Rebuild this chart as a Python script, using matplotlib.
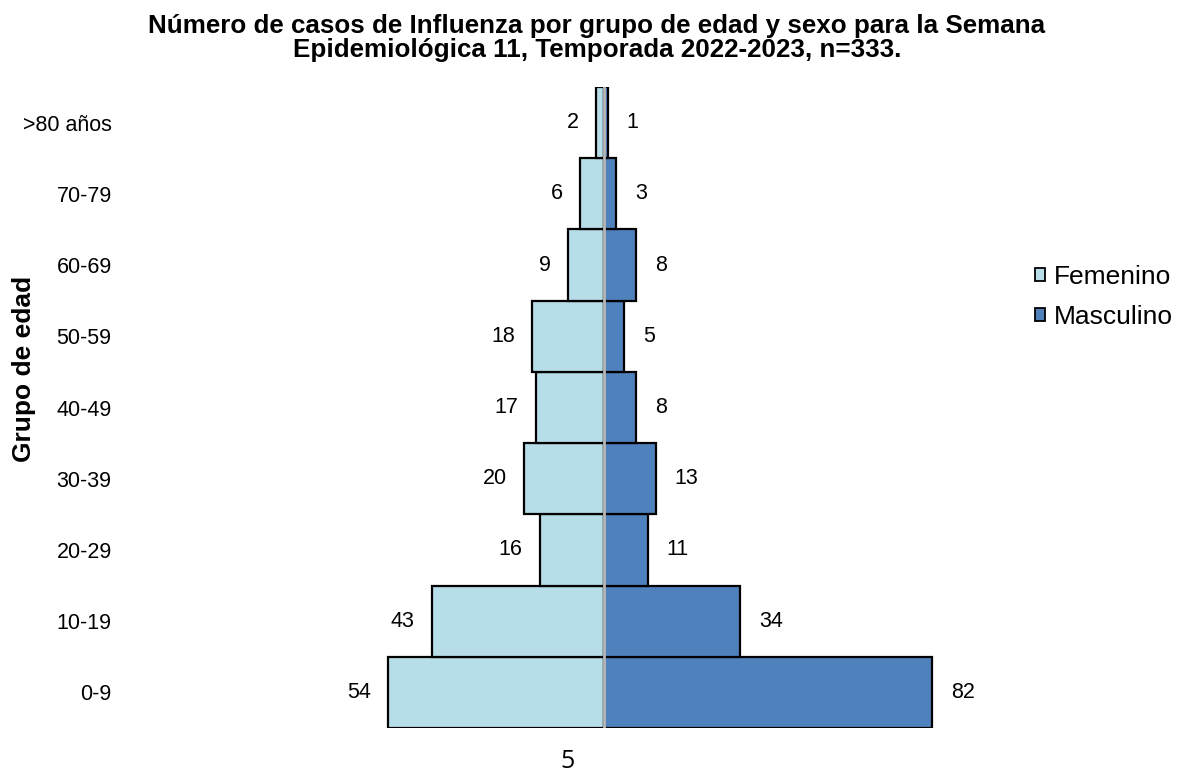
"""Piramide de casos de influenza por grupo de edad y sexo, SE 11."""
import matplotlib

matplotlib.use("Agg")
import matplotlib.pyplot as plt  # noqa: E402
import numpy as np  # noqa: E402
from matplotlib.patches import Patch  # noqa: E402

plt.rcParams["font.family"] = ["Liberation Sans", "DejaVu Sans"]

GRUPOS = ["0-9", "10-19", "20-29", "30-39", "40-49", "50-59", "60-69", "70-79", ">80 años"]
FEMENINO = [54, 43, 16, 20, 17, 18, 9, 6, 2]
MASCULINO = [82, 34, 11, 13, 8, 5, 8, 3, 1]

COLOR_FEM = "#B7DDE8"
COLOR_MAS = "#4F81BD"

W, H = 1180, 772
fig = plt.figure(figsize=(W / 100, H / 100), dpi=100)

# axes in pixel terms: left 120, right 1010, top 87, bottom 728
left, right, top, bottom = 120, 1010, 87, 728
ax = fig.add_axes([left / W, 1 - bottom / H, (right - left) / W, (bottom - top) / H])

center = 604
scale = 4.0  # px per case
ax.set_xlim(-(center - left) / scale, (right - center) / scale)
ax.set_ylim(-0.5, len(GRUPOS) - 0.5)

y = np.arange(len(GRUPOS))
fem = np.array(FEMENINO)
mas = np.array(MASCULINO)

ax.barh(y, -fem, height=1.0, color=COLOR_FEM, edgecolor="black", linewidth=1.6, zorder=2)
ax.barh(y, mas, height=1.0, color=COLOR_MAS, edgecolor="black", linewidth=1.6, zorder=2)
ax.axvline(0, color="#b8b8b8", linewidth=2, zorder=3)

for yi, f, m in zip(y, fem, mas):
    ax.annotate(str(f), (-f, yi), xytext=(-12.5, 0), textcoords="offset points",
                ha="right", va="center", fontsize=15.5)
    ax.annotate(str(m), (m, yi), xytext=(13.5, 0), textcoords="offset points",
                ha="left", va="center", fontsize=15.5)

ax.set_yticks(y)
ax.set_yticklabels(GRUPOS, fontsize=15.5)
ax.tick_params(axis="y", length=0, pad=6)
ax.set_xticks([])
for s in ax.spines.values():
    s.set_visible(False)

fig.text(24 / W, 1 - 369 / H, "Grupo de edad", rotation=90, ha="center", va="center",
         fontsize=19, fontweight="bold")

fig.suptitle("Número de casos de Influenza por grupo de edad y sexo para la Semana\n"
             "Epidemiológica 11, Temporada 2022-2023, n=333.",
             x=597 / W, y=1 - 14 / H, fontsize=18.7, fontweight="bold", va="top",
             linespacing=0.98)

handles = [Patch(facecolor=COLOR_FEM, edgecolor="black", linewidth=1.3, label="Femenino"),
           Patch(facecolor=COLOR_MAS, edgecolor="black", linewidth=1.3, label="Masculino")]
fig.legend(handles=handles, loc="center left", bbox_to_anchor=(1024 / W, 1 - 297 / H),
           frameon=False, fontsize=19, handlelength=0.4, handleheight=0.4,
           handletextpad=0.35, labelspacing=0.6, borderaxespad=0)

fig.text(567 / W, 1 - 761 / H, "5", ha="center", va="center", fontsize=18,
         family=["Open Sans", "DejaVu Sans"])

fig.savefig("out.png", dpi=100)
